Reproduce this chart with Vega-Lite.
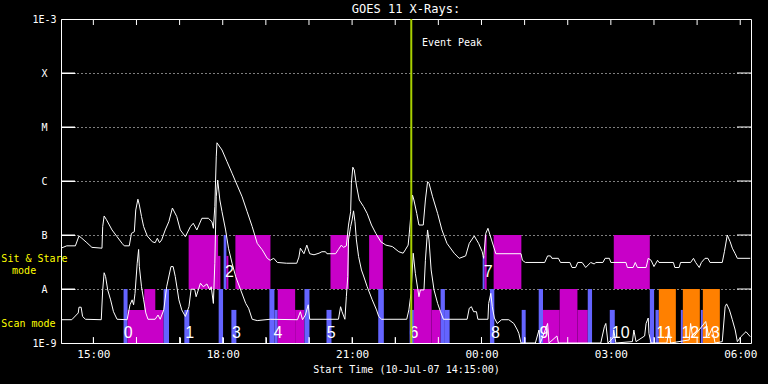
{
 "$schema": "https://vega.github.io/schema/vega-lite/v6.json",
 "width": 690, "height": 324,
 "autosize": {"type": "none"},
 "padding": {"left": 61, "top": 19, "right": 17, "bottom": 41},
 "background": "black",
 "title": {"text": "GOES 11 X-Rays:", "color": "white", "font": "DejaVu Sans Mono", "fontSize": 12, "fontWeight": "normal", "anchor": "middle", "offset": -2},
 "config": {
  "view": {"stroke": "white", "strokeWidth": 1},
  "axis": {"labelColor": "white", "domain": false, "titleColor": "white", "labelFont": "DejaVu Sans Mono", "titleFont": "DejaVu Sans Mono", "titleFontWeight": "normal", "labelOverlap": false, "labelFlush": false}
 },
 "resolve": {"axis": {"x": "independent", "y": "independent"}},
 "datasets": {
  "bars": [
   {"s":"2007-07-10T15:42:03","e":"2007-07-10T15:47:37","lo":1e-9,"hi":1e-8,"k":"blue"},
   {"s":"2007-07-10T15:47:37","e":"2007-07-10T16:37:46","lo":1e-9,"hi":4.1e-9,"k":"magenta"},
   {"s":"2007-07-10T16:10:53","e":"2007-07-10T16:26:12","lo":1e-9,"hi":1e-8,"k":"magenta"},
   {"s":"2007-07-10T16:37:46","e":"2007-07-10T16:45:17","lo":1e-9,"hi":1e-8,"k":"blue"},
   {"s":"2007-07-10T17:06:35","e":"2007-07-10T17:13:33","lo":1e-9,"hi":4.1e-9,"k":"blue"},
   {"s":"2007-07-10T17:54:22","e":"2007-07-10T18:00:29","lo":1e-9,"hi":1e-8,"k":"blue"},
   {"s":"2007-07-10T18:12:03","e":"2007-07-10T18:19:01","lo":1e-9,"hi":4.1e-9,"k":"blue"},
   {"s":"2007-07-10T19:04:58","e":"2007-07-10T19:11:56","lo":1e-9,"hi":1e-8,"k":"blue"},
   {"s":"2007-07-10T19:11:56","e":"2007-07-10T19:16:32","lo":1e-9,"hi":4.1e-9,"k":"blue"},
   {"s":"2007-07-10T19:16:32","e":"2007-07-10T19:40:46","lo":1e-9,"hi":1e-8,"k":"magenta"},
   {"s":"2007-07-10T19:40:46","e":"2007-07-10T19:53:43","lo":1e-9,"hi":4.1e-9,"k":"magenta"},
   {"s":"2007-07-10T19:53:43","e":"2007-07-10T20:00:41","lo":1e-9,"hi":1e-8,"k":"blue"},
   {"s":"2007-07-10T20:24:22","e":"2007-07-10T20:31:20","lo":1e-9,"hi":4.1e-9,"k":"blue"},
   {"s":"2007-07-10T21:36:22","e":"2007-07-10T21:44:10","lo":1e-9,"hi":1e-8,"k":"blue"},
   {"s":"2007-07-10T22:19:58","e":"2007-07-10T22:25:57","lo":1e-9,"hi":4.1e-9,"k":"blue"},
   {"s":"2007-07-10T22:25:57","e":"2007-07-10T22:50:36","lo":1e-9,"hi":1e-8,"k":"magenta"},
   {"s":"2007-07-10T22:50:36","e":"2007-07-10T23:03:06","lo":1e-9,"hi":4.1e-9,"k":"magenta"},
   {"s":"2007-07-10T23:03:06","e":"2007-07-10T23:09:06","lo":1e-9,"hi":1e-8,"k":"blue"},
   {"s":"2007-07-10T23:09:06","e":"2007-07-10T23:15:42","lo":1e-9,"hi":4.1e-9,"k":"blue"},
   {"s":"2007-07-11T00:11:48","e":"2007-07-11T00:17:54","lo":1e-9,"hi":1e-8,"k":"blue"},
   {"s":"2007-07-11T00:55:57","e":"2007-07-11T01:01:31","lo":1e-9,"hi":4.1e-9,"k":"blue"},
   {"s":"2007-07-11T01:19:38","e":"2007-07-11T01:25:37","lo":1e-9,"hi":1e-8,"k":"blue"},
   {"s":"2007-07-11T01:25:37","e":"2007-07-11T01:48:52","lo":1e-9,"hi":4.1e-9,"k":"magenta"},
   {"s":"2007-07-11T01:48:52","e":"2007-07-11T02:13:31","lo":1e-9,"hi":1e-8,"k":"magenta"},
   {"s":"2007-07-11T02:13:31","e":"2007-07-11T02:27:52","lo":1e-9,"hi":4.1e-9,"k":"magenta"},
   {"s":"2007-07-11T02:27:52","e":"2007-07-11T02:33:51","lo":1e-9,"hi":1e-8,"k":"blue"},
   {"s":"2007-07-11T02:58:30","e":"2007-07-11T03:05:28","lo":1e-9,"hi":4.1e-9,"k":"blue"},
   {"s":"2007-07-11T03:54:13","e":"2007-07-11T04:00:12","lo":1e-9,"hi":1e-8,"k":"blue"},
   {"s":"2007-07-11T04:02:07","e":"2007-07-11T04:06:48","lo":1e-9,"hi":4.1e-9,"k":"blue"},
   {"s":"2007-07-11T04:06:48","e":"2007-07-11T04:30:27","lo":1e-9,"hi":1e-8,"k":"orange"},
   {"s":"2007-07-11T04:37:25","e":"2007-07-11T04:40:12","lo":1e-9,"hi":4.1e-9,"k":"blue"},
   {"s":"2007-07-11T04:40:12","e":"2007-07-11T05:03:50","lo":1e-9,"hi":1e-8,"k":"orange"},
   {"s":"2007-07-11T05:05:14","e":"2007-07-11T05:08:01","lo":1e-9,"hi":4.1e-9,"k":"blue"},
   {"s":"2007-07-11T05:08:01","e":"2007-07-11T05:31:40","lo":1e-9,"hi":1e-8,"k":"orange"},
   {"s":"2007-07-10T17:12:35","e":"2007-07-10T17:53:32","lo":1e-8,"hi":1e-7,"k":"magenta"},
   {"s":"2007-07-10T17:53:32","e":"2007-07-10T17:56:44","lo":1e-8,"hi":4.1e-8,"k":"magenta"},
   {"s":"2007-07-10T18:01:20","e":"2007-07-10T18:05:05","lo":1e-8,"hi":1e-7,"k":"blue"},
   {"s":"2007-07-10T18:05:05","e":"2007-07-10T18:07:52","lo":1e-8,"hi":4.1e-8,"k":"magenta"},
   {"s":"2007-07-10T18:17:38","e":"2007-07-10T19:06:23","lo":1e-8,"hi":1e-7,"k":"magenta"},
   {"s":"2007-07-10T20:29:56","e":"2007-07-10T20:55:25","lo":1e-8,"hi":1e-7,"k":"magenta"},
   {"s":"2007-07-10T21:23:42","e":"2007-07-10T21:42:46","lo":1e-8,"hi":1e-7,"k":"magenta"},
   {"s":"2007-07-11T00:01:38","e":"2007-07-11T00:04:25","lo":1e-8,"hi":4.1e-8,"k":"blue"},
   {"s":"2007-07-11T00:04:25","e":"2007-07-11T00:07:12","lo":1e-8,"hi":1e-7,"k":"magenta"},
   {"s":"2007-07-11T00:16:57","e":"2007-07-11T00:55:30","lo":1e-8,"hi":1e-7,"k":"magenta"},
   {"s":"2007-07-11T03:04:05","e":"2007-07-11T03:54:13","lo":1e-8,"hi":1e-7,"k":"magenta"}
  ],
  "long": [
   {"t":"2007-07-10T14:15","f":5.7e-8},{"t":"2007-07-10T14:23","f":6.3e-8},{"t":"2007-07-10T14:35","f":6.3e-8},{"t":"2007-07-10T14:40","f":9.6e-8},{"t":"2007-07-10T14:44","f":8.7e-8},{"t":"2007-07-10T14:51","f":7.2e-8},{"t":"2007-07-10T14:58","f":5.9e-8},{"t":"2007-07-10T15:12","f":5.7e-8},{"t":"2007-07-10T15:13","f":1.43e-7},{"t":"2007-07-10T15:15","f":2.25e-7},{"t":"2007-07-10T15:18","f":1.95e-7},{"t":"2007-07-10T15:26","f":1.24e-7},{"t":"2007-07-10T15:33","f":9.3e-8},{"t":"2007-07-10T15:40","f":7.0e-8},{"t":"2007-07-10T15:43","f":6.3e-8},{"t":"2007-07-10T15:50","f":6.3e-8},{"t":"2007-07-10T15:53","f":1.07e-7},{"t":"2007-07-10T15:57","f":1.15e-7},{"t":"2007-07-10T15:59","f":2.9e-7},{"t":"2007-07-10T16:02","f":4.6e-7},{"t":"2007-07-10T16:04","f":3.6e-7},{"t":"2007-07-10T16:07","f":2.2e-7},{"t":"2007-07-10T16:10","f":1.43e-7},{"t":"2007-07-10T16:15","f":9.6e-8},{"t":"2007-07-10T16:22","f":7.5e-8},{"t":"2007-07-10T16:26","f":7.2e-8},{"t":"2007-07-10T16:29","f":8.7e-8},{"t":"2007-07-10T16:32","f":7.2e-8},{"t":"2007-07-10T16:35","f":8.1e-8},{"t":"2007-07-10T16:40","f":1.24e-7},{"t":"2007-07-10T16:45","f":1.76e-7},{"t":"2007-07-10T16:50","f":3.16e-7},{"t":"2007-07-10T16:56","f":2.2e-7},{"t":"2007-07-10T17:01","f":1.24e-7},{"t":"2007-07-10T17:08","f":9.3e-8},{"t":"2007-07-10T17:15","f":1.43e-7},{"t":"2007-07-10T17:19","f":1.65e-7},{"t":"2007-07-10T17:24","f":1.24e-7},{"t":"2007-07-10T17:31","f":2.04e-7},{"t":"2007-07-10T17:40","f":2.04e-7},{"t":"2007-07-10T17:45","f":1.76e-7},{"t":"2007-07-10T17:47","f":1.33e-7},{"t":"2007-07-10T17:49","f":3.34e-7},{"t":"2007-07-10T17:51","f":2.8e-6},{"t":"2007-07-10T17:52","f":5.1e-6},{"t":"2007-07-10T17:59","f":3.75e-6},{"t":"2007-07-10T18:06","f":2.28e-6},{"t":"2007-07-10T18:13","f":1.39e-6},{"t":"2007-07-10T18:20","f":8.4e-7},{"t":"2007-07-10T18:27","f":5.1e-7},{"t":"2007-07-10T18:34","f":2.7e-7},{"t":"2007-07-10T18:41","f":1.43e-7},{"t":"2007-07-10T18:48","f":7.0e-8},{"t":"2007-07-10T18:55","f":5.3e-8},{"t":"2007-07-10T19:02","f":3.7e-8},{"t":"2007-07-10T19:06","f":3.4e-8},{"t":"2007-07-10T19:11","f":3.7e-8},{"t":"2007-07-10T19:16","f":3.1e-8},{"t":"2007-07-10T19:29","f":3.0e-8},{"t":"2007-07-10T19:43","f":3.0e-8},{"t":"2007-07-10T19:46","f":3.9e-8},{"t":"2007-07-10T19:48","f":5.7e-8},{"t":"2007-07-10T19:53","f":4.5e-8},{"t":"2007-07-10T19:57","f":6.5e-8},{"t":"2007-07-10T20:01","f":4.5e-8},{"t":"2007-07-10T20:07","f":4.3e-8},{"t":"2007-07-10T20:14","f":4.6e-8},{"t":"2007-07-10T20:18","f":4.9e-8},{"t":"2007-07-10T20:23","f":4.9e-8},{"t":"2007-07-10T20:25","f":4.5e-8},{"t":"2007-07-10T20:37","f":4.5e-8},{"t":"2007-07-10T20:41","f":5.4e-8},{"t":"2007-07-10T20:45","f":6.5e-8},{"t":"2007-07-10T20:48","f":5.9e-8},{"t":"2007-07-10T20:52","f":6.3e-8},{"t":"2007-07-10T20:55","f":1.53e-7},{"t":"2007-07-10T20:58","f":2.7e-7},{"t":"2007-07-10T20:59","f":9.1e-7},{"t":"2007-07-10T21:01","f":1.8e-6},{"t":"2007-07-10T21:03","f":1.6e-6},{"t":"2007-07-10T21:06","f":8.4e-7},{"t":"2007-07-10T21:10","f":4.45e-7},{"t":"2007-07-10T21:16","f":3.34e-7},{"t":"2007-07-10T21:21","f":2.5e-7},{"t":"2007-07-10T21:27","f":1.53e-7},{"t":"2007-07-10T21:33","f":1.07e-7},{"t":"2007-07-10T21:40","f":7.5e-8},{"t":"2007-07-10T21:47","f":6.5e-8},{"t":"2007-07-10T21:56","f":6.1e-8},{"t":"2007-07-10T22:05","f":4.9e-8},{"t":"2007-07-10T22:11","f":4.6e-8},{"t":"2007-07-10T22:14","f":5.3e-8},{"t":"2007-07-10T22:18","f":6.5e-8},{"t":"2007-07-10T22:20","f":1.24e-7},{"t":"2007-07-10T22:24","f":5.5e-7},{"t":"2007-07-10T22:26","f":4.45e-7},{"t":"2007-07-10T22:30","f":2.5e-7},{"t":"2007-07-10T22:33","f":1.53e-7},{"t":"2007-07-10T22:39","f":1.53e-7},{"t":"2007-07-10T22:42","f":4.45e-7},{"t":"2007-07-10T22:45","f":9.7e-7},{"t":"2007-07-10T22:47","f":9.1e-7},{"t":"2007-07-10T22:52","f":5.1e-7},{"t":"2007-07-10T22:59","f":2.5e-7},{"t":"2007-07-10T23:05","f":1.24e-7},{"t":"2007-07-10T23:12","f":7.0e-8},{"t":"2007-07-10T23:22","f":4.6e-8},{"t":"2007-07-10T23:29","f":3.7e-8},{"t":"2007-07-10T23:38","f":4.1e-8},{"t":"2007-07-10T23:43","f":7.0e-8},{"t":"2007-07-10T23:50","f":9.6e-8},{"t":"2007-07-10T23:56","f":7.0e-8},{"t":"2007-07-11T00:01","f":4.9e-8},{"t":"2007-07-11T00:03","f":3.7e-8},{"t":"2007-07-11T00:06","f":1.07e-7},{"t":"2007-07-11T00:09","f":1.33e-7},{"t":"2007-07-11T00:14","f":8.1e-8},{"t":"2007-07-11T00:20","f":4.5e-8},{"t":"2007-07-11T00:55","f":4.5e-8},{"t":"2007-07-11T00:57","f":3.4e-8},{"t":"2007-07-11T01:01","f":3.1e-8},{"t":"2007-07-11T01:28","f":3.1e-8},{"t":"2007-07-11T01:32","f":4.1e-8},{"t":"2007-07-11T01:36","f":4.1e-8},{"t":"2007-07-11T01:38","f":3.7e-8},{"t":"2007-07-11T01:47","f":3.7e-8},{"t":"2007-07-11T01:50","f":3.1e-8},{"t":"2007-07-11T02:03","f":3.1e-8},{"t":"2007-07-11T02:06","f":2.5e-8},{"t":"2007-07-11T02:11","f":2.5e-8},{"t":"2007-07-11T02:14","f":3.1e-8},{"t":"2007-07-11T02:20","f":3.1e-8},{"t":"2007-07-11T02:25","f":2.5e-8},{"t":"2007-07-11T02:32","f":3.1e-8},{"t":"2007-07-11T02:37","f":2.9e-8},{"t":"2007-07-11T02:39","f":3.1e-8},{"t":"2007-07-11T02:49","f":3.1e-8},{"t":"2007-07-11T02:52","f":3.7e-8},{"t":"2007-07-11T02:58","f":3.7e-8},{"t":"2007-07-11T03:00","f":3.1e-8},{"t":"2007-07-11T03:21","f":3.1e-8},{"t":"2007-07-11T03:23","f":2.5e-8},{"t":"2007-07-11T03:31","f":2.5e-8},{"t":"2007-07-11T03:34","f":3.1e-8},{"t":"2007-07-11T03:37","f":2.5e-8},{"t":"2007-07-11T03:49","f":2.5e-8},{"t":"2007-07-11T03:52","f":3.7e-8},{"t":"2007-07-11T03:56","f":3.4e-8},{"t":"2007-07-11T04:00","f":2.6e-8},{"t":"2007-07-11T04:05","f":3.4e-8},{"t":"2007-07-11T04:07","f":3.1e-8},{"t":"2007-07-11T04:27","f":3.1e-8},{"t":"2007-07-11T04:29","f":2.5e-8},{"t":"2007-07-11T04:35","f":2.5e-8},{"t":"2007-07-11T04:37","f":3.1e-8},{"t":"2007-07-11T04:51","f":3.1e-8},{"t":"2007-07-11T04:55","f":3.7e-8},{"t":"2007-07-11T04:58","f":3.1e-8},{"t":"2007-07-11T05:03","f":2.5e-8},{"t":"2007-07-11T05:06","f":3.1e-8},{"t":"2007-07-11T05:11","f":3.7e-8},{"t":"2007-07-11T05:15","f":3.7e-8},{"t":"2007-07-11T05:18","f":3.1e-8},{"t":"2007-07-11T05:35","f":3.1e-8},{"t":"2007-07-11T05:38","f":4.9e-8},{"t":"2007-07-11T05:42","f":1.0e-7},{"t":"2007-07-11T05:46","f":7.5e-8},{"t":"2007-07-11T05:49","f":5.7e-8},{"t":"2007-07-11T05:53","f":4.5e-8},{"t":"2007-07-11T05:56","f":3.7e-8},{"t":"2007-07-11T06:14","f":3.7e-8}
  ],
  "short": [
   {"t":"2007-07-10T14:15","f":2.7e-9},{"t":"2007-07-10T14:30","f":2.7e-9},{"t":"2007-07-10T14:39","f":3.6e-9},{"t":"2007-07-10T14:40","f":4.6e-9},{"t":"2007-07-10T14:43","f":4.6e-9},{"t":"2007-07-10T14:45","f":3.1e-9},{"t":"2007-07-10T14:49","f":2.75e-9},{"t":"2007-07-10T15:11","f":2.7e-9},{"t":"2007-07-10T15:13","f":9.6e-9},{"t":"2007-07-10T15:15","f":2.0e-8},{"t":"2007-07-10T15:17","f":1.7e-8},{"t":"2007-07-10T15:20","f":9.6e-9},{"t":"2007-07-10T15:24","f":6.3e-9},{"t":"2007-07-10T15:28","f":3.8e-9},{"t":"2007-07-10T15:33","f":2.75e-9},{"t":"2007-07-10T15:47","f":2.7e-9},{"t":"2007-07-10T15:51","f":5.1e-9},{"t":"2007-07-10T15:54","f":6.3e-9},{"t":"2007-07-10T15:56","f":5.1e-9},{"t":"2007-07-10T15:58","f":8.3e-9},{"t":"2007-07-10T16:01","f":3.0e-8},{"t":"2007-07-10T16:03","f":5.4e-8},{"t":"2007-07-10T16:04","f":2.6e-8},{"t":"2007-07-10T16:07","f":1.1e-8},{"t":"2007-07-10T16:10","f":6.3e-9},{"t":"2007-07-10T16:13","f":3.6e-9},{"t":"2007-07-10T16:16","f":2.75e-9},{"t":"2007-07-10T16:26","f":2.75e-9},{"t":"2007-07-10T16:30","f":3.3e-9},{"t":"2007-07-10T16:33","f":2.75e-9},{"t":"2007-07-10T16:38","f":4.1e-9},{"t":"2007-07-10T16:42","f":1.1e-8},{"t":"2007-07-10T16:48","f":2.6e-8},{"t":"2007-07-10T16:51","f":2.6e-8},{"t":"2007-07-10T16:54","f":1.7e-8},{"t":"2007-07-10T16:59","f":6.3e-9},{"t":"2007-07-10T17:03","f":4.1e-9},{"t":"2007-07-10T17:08","f":3.1e-9},{"t":"2007-07-10T17:13","f":4.7e-9},{"t":"2007-07-10T17:16","f":9.9e-9},{"t":"2007-07-10T17:21","f":9.9e-9},{"t":"2007-07-10T17:23","f":7.2e-9},{"t":"2007-07-10T17:29","f":1.28e-8},{"t":"2007-07-10T17:33","f":1.1e-8},{"t":"2007-07-10T17:38","f":1.24e-8},{"t":"2007-07-10T17:42","f":9.6e-9},{"t":"2007-07-10T17:44","f":1.1e-8},{"t":"2007-07-10T17:47","f":5.4e-9},{"t":"2007-07-10T17:49","f":3.0e-8},{"t":"2007-07-10T17:51","f":5.1e-7},{"t":"2007-07-10T17:53","f":1.04e-6},{"t":"2007-07-10T17:56","f":4.45e-7},{"t":"2007-07-10T17:59","f":2.7e-7},{"t":"2007-07-10T18:04","f":1.24e-7},{"t":"2007-07-10T18:08","f":5.7e-8},{"t":"2007-07-10T18:13","f":3.0e-8},{"t":"2007-07-10T18:18","f":1.7e-8},{"t":"2007-07-10T18:25","f":9.6e-9},{"t":"2007-07-10T18:32","f":5.4e-9},{"t":"2007-07-10T18:36","f":4.4e-9},{"t":"2007-07-10T18:41","f":2.75e-9},{"t":"2007-07-10T18:48","f":2.6e-9},{"t":"2007-07-10T19:06","f":2.75e-9},{"t":"2007-07-10T19:44","f":2.7e-9},{"t":"2007-07-10T19:48","f":3.8e-9},{"t":"2007-07-10T19:51","f":2.7e-9},{"t":"2007-07-10T19:55","f":3.3e-9},{"t":"2007-07-10T19:59","f":5.1e-9},{"t":"2007-07-10T20:01","f":2.75e-9},{"t":"2007-07-10T20:41","f":2.75e-9},{"t":"2007-07-10T20:44","f":4.7e-9},{"t":"2007-07-10T20:46","f":3.8e-9},{"t":"2007-07-10T20:50","f":2.75e-9},{"t":"2007-07-10T20:52","f":7.2e-9},{"t":"2007-07-10T20:54","f":1.7e-8},{"t":"2007-07-10T20:55","f":8.1e-8},{"t":"2007-07-10T20:58","f":1.43e-7},{"t":"2007-07-10T21:00","f":1.9e-7},{"t":"2007-07-10T21:02","f":2.8e-7},{"t":"2007-07-10T21:04","f":1.76e-7},{"t":"2007-07-10T21:06","f":8.1e-8},{"t":"2007-07-10T21:09","f":4.0e-8},{"t":"2007-07-10T21:13","f":2.25e-8},{"t":"2007-07-10T21:16","f":1.74e-8},{"t":"2007-07-10T21:21","f":1.1e-8},{"t":"2007-07-10T21:28","f":6.3e-9},{"t":"2007-07-10T21:34","f":4.1e-9},{"t":"2007-07-10T21:37","f":3.1e-9},{"t":"2007-07-10T21:41","f":2.75e-9},{"t":"2007-07-10T22:16","f":2.75e-9},{"t":"2007-07-10T22:19","f":4.1e-9},{"t":"2007-07-10T22:22","f":8.3e-9},{"t":"2007-07-10T22:25","f":4.6e-8},{"t":"2007-07-10T22:28","f":1.95e-8},{"t":"2007-07-10T22:33","f":7.2e-9},{"t":"2007-07-10T22:35","f":9.6e-9},{"t":"2007-07-10T22:40","f":9.6e-9},{"t":"2007-07-10T22:42","f":3.4e-8},{"t":"2007-07-10T22:45","f":1.24e-7},{"t":"2007-07-10T22:47","f":8.1e-8},{"t":"2007-07-10T22:50","f":2.25e-8},{"t":"2007-07-10T22:54","f":9.6e-9},{"t":"2007-07-10T22:59","f":5.4e-9},{"t":"2007-07-10T23:03","f":3.8e-9},{"t":"2007-07-10T23:07","f":2.75e-9},{"t":"2007-07-10T23:40","f":2.75e-9},{"t":"2007-07-10T23:43","f":4.4e-9},{"t":"2007-07-10T23:46","f":4.7e-9},{"t":"2007-07-10T23:49","f":3.8e-9},{"t":"2007-07-10T23:53","f":3.8e-9},{"t":"2007-07-10T23:55","f":2.75e-9},{"t":"2007-07-11T00:09","f":2.75e-9},{"t":"2007-07-11T00:10","f":5.4e-9},{"t":"2007-07-11T00:13","f":8.3e-9},{"t":"2007-07-11T00:15","f":4.7e-9},{"t":"2007-07-11T00:18","f":2.9e-9},{"t":"2007-07-11T00:22","f":2.3e-9},{"t":"2007-07-11T00:28","f":2.7e-9},{"t":"2007-07-11T00:38","f":2.7e-9},{"t":"2007-07-11T00:45","f":2.3e-9},{"t":"2007-07-11T00:50","f":1.74e-9},{"t":"2007-07-11T00:52","f":1.5e-9},{"t":"2007-07-11T00:55","f":1.0e-9},{"t":"2007-07-11T01:15","f":1.0e-9},{"t":"2007-07-11T01:20","f":1.74e-9},{"t":"2007-07-11T01:22","f":1.0e-9},{"t":"2007-07-11T01:32","f":2.3e-9},{"t":"2007-07-11T01:34","f":1.0e-9},{"t":"2007-07-11T01:45","f":1.35e-9},{"t":"2007-07-11T01:47","f":1.0e-9},{"t":"2007-07-11T02:46","f":1.0e-9},{"t":"2007-07-11T02:51","f":2.0e-9},{"t":"2007-07-11T02:53","f":2.3e-9},{"t":"2007-07-11T02:56","f":1.0e-9},{"t":"2007-07-11T03:03","f":1.24e-9},{"t":"2007-07-11T03:04","f":1.74e-9},{"t":"2007-07-11T03:07","f":1.0e-9},{"t":"2007-07-11T03:30","f":1.06e-9},{"t":"2007-07-11T03:32","f":1.74e-9},{"t":"2007-07-11T03:35","f":1.06e-9},{"t":"2007-07-11T03:47","f":1.35e-9},{"t":"2007-07-11T03:49","f":2.3e-9},{"t":"2007-07-11T03:52","f":2.9e-9},{"t":"2007-07-11T03:53","f":1.5e-9},{"t":"2007-07-11T03:56","f":1.0e-9},{"t":"2007-07-11T04:18","f":1.0e-9},{"t":"2007-07-11T04:21","f":1.87e-9},{"t":"2007-07-11T04:23","f":1.0e-9},{"t":"2007-07-11T04:49","f":1.14e-9},{"t":"2007-07-11T04:51","f":2.3e-9},{"t":"2007-07-11T04:54","f":1.24e-9},{"t":"2007-07-11T05:12","f":2.5e-9},{"t":"2007-07-11T05:16","f":1.35e-9},{"t":"2007-07-11T05:21","f":1.87e-9},{"t":"2007-07-11T05:25","f":1.0e-9},{"t":"2007-07-11T05:35","f":1.06e-9},{"t":"2007-07-11T05:39","f":4.7e-9},{"t":"2007-07-11T05:41","f":5.3e-9},{"t":"2007-07-11T05:45","f":4.1e-9},{"t":"2007-07-11T05:49","f":2.7e-9},{"t":"2007-07-11T05:53","f":1.74e-9},{"t":"2007-07-11T05:56","f":1.06e-9},{"t":"2007-07-11T06:01","f":1.31e-9},{"t":"2007-07-11T06:08","f":1.62e-9},{"t":"2007-07-11T06:14","f":1.31e-9}
  ],
  "nums": [
   {"t":"2007-07-10T15:48:36","f":1.53e-9,"n":"0"},
   {"t":"2007-07-10T17:14:00","f":1.53e-9,"n":"1"},
   {"t":"2007-07-10T18:09:18","f":2.06e-8,"n":"2"},
   {"t":"2007-07-10T18:19:00","f":1.53e-9,"n":"3"},
   {"t":"2007-07-10T19:17:00","f":1.53e-9,"n":"4"},
   {"t":"2007-07-10T20:30:54","f":1.53e-9,"n":"5"},
   {"t":"2007-07-10T22:26:00","f":1.53e-9,"n":"6"},
   {"t":"2007-07-11T00:09:18","f":2.06e-8,"n":"7"},
   {"t":"2007-07-11T00:19:18","f":1.53e-9,"n":"8"},
   {"t":"2007-07-11T01:27:00","f":1.53e-9,"n":"9"},
   {"t":"2007-07-11T03:13:48","f":1.53e-9,"n":"10"},
   {"t":"2007-07-11T04:14:42","f":1.53e-9,"n":"11"},
   {"t":"2007-07-11T04:50:36","f":1.53e-9,"n":"12"},
   {"t":"2007-07-11T05:19:12","f":1.53e-9,"n":"13"}
  ],
  "ytick": [
   {"a":"2007-07-10T14:15:00","b":"2007-07-10T14:34:30","f":1e-8},
   {"a":"2007-07-10T14:15:00","b":"2007-07-10T14:34:30","f":1e-7},
   {"a":"2007-07-10T14:15:00","b":"2007-07-10T14:34:30","f":1e-6},
   {"a":"2007-07-10T14:15:00","b":"2007-07-10T14:34:30","f":1e-5},
   {"a":"2007-07-10T14:15:00","b":"2007-07-10T14:34:30","f":1e-4},
   {"a":"2007-07-11T05:55:30","b":"2007-07-11T06:15:00","f":1e-8},
   {"a":"2007-07-11T05:55:30","b":"2007-07-11T06:15:00","f":1e-7},
   {"a":"2007-07-11T05:55:30","b":"2007-07-11T06:15:00","f":1e-6},
   {"a":"2007-07-11T05:55:30","b":"2007-07-11T06:15:00","f":1e-5},
   {"a":"2007-07-11T05:55:30","b":"2007-07-11T06:15:00","f":1e-4}
  ],
  "xtick": [
   {"t":"2007-07-10T15:00","lo":1e-9,"hi":1.29e-9},{"t":"2007-07-10T16:00","lo":1e-9,"hi":1.29e-9},{"t":"2007-07-10T17:00","lo":1e-9,"hi":1.29e-9},{"t":"2007-07-10T18:00","lo":1e-9,"hi":1.29e-9},{"t":"2007-07-10T19:00","lo":1e-9,"hi":1.29e-9},{"t":"2007-07-10T20:00","lo":1e-9,"hi":1.29e-9},{"t":"2007-07-10T21:00","lo":1e-9,"hi":1.29e-9},{"t":"2007-07-10T22:00","lo":1e-9,"hi":1.29e-9},{"t":"2007-07-10T23:00","lo":1e-9,"hi":1.29e-9},{"t":"2007-07-11T00:00","lo":1e-9,"hi":1.29e-9},{"t":"2007-07-11T01:00","lo":1e-9,"hi":1.29e-9},{"t":"2007-07-11T02:00","lo":1e-9,"hi":1.29e-9},{"t":"2007-07-11T03:00","lo":1e-9,"hi":1.29e-9},{"t":"2007-07-11T04:00","lo":1e-9,"hi":1.29e-9},{"t":"2007-07-11T05:00","lo":1e-9,"hi":1.29e-9},{"t":"2007-07-11T06:00","lo":1e-9,"hi":1.29e-9},
   {"t":"2007-07-10T15:00","lo":7.74e-4,"hi":1e-3},{"t":"2007-07-10T16:00","lo":7.74e-4,"hi":1e-3},{"t":"2007-07-10T17:00","lo":7.74e-4,"hi":1e-3},{"t":"2007-07-10T18:00","lo":7.74e-4,"hi":1e-3},{"t":"2007-07-10T19:00","lo":7.74e-4,"hi":1e-3},{"t":"2007-07-10T20:00","lo":7.74e-4,"hi":1e-3},{"t":"2007-07-10T21:00","lo":7.74e-4,"hi":1e-3},{"t":"2007-07-10T22:00","lo":7.74e-4,"hi":1e-3},{"t":"2007-07-10T23:00","lo":7.74e-4,"hi":1e-3},{"t":"2007-07-11T00:00","lo":7.74e-4,"hi":1e-3},{"t":"2007-07-11T01:00","lo":7.74e-4,"hi":1e-3},{"t":"2007-07-11T02:00","lo":7.74e-4,"hi":1e-3},{"t":"2007-07-11T03:00","lo":7.74e-4,"hi":1e-3},{"t":"2007-07-11T04:00","lo":7.74e-4,"hi":1e-3},{"t":"2007-07-11T05:00","lo":7.74e-4,"hi":1e-3},{"t":"2007-07-11T06:00","lo":7.74e-4,"hi":1e-3}
  ],
  "peak": [{"t":"2007-07-10T22:22:20"}],
  "notes": [{"t":"2007-07-10T22:37:06","f":3.64e-4,"txt":"Event Peak"}],
  "side": [
   {"t":"2007-07-10T13:38:06","f":3.6e-8,"txt":"Sit & Stare"},
   {"t":"2007-07-10T13:23:42","f":2.15e-8,"txt":"mode"},
   {"t":"2007-07-10T13:29:42","f":2.25e-9,"txt":"Scan mode"}
  ]
 },
 "layer": [
  {
   "data": {"name": "bars"},
   "mark": {"type": "rect"},
   "encoding": {
    "x": {"field": "s", "type": "temporal", "scale": {"domain": [{"year":2007,"month":7,"date":10,"hours":14,"minutes":15},{"year":2007,"month":7,"date":11,"hours":6,"minutes":15}], "nice": false},
     "axis": {"orient": "bottom", "offset": -6, "tickCount": 16, "ticks": true, "tickSize": 6, "tickColor": "#ffffff", "labelPadding": 5, "labelFontSize": 11, "labelExpr": "hours(datum.value) % 3 == 0 ? timeFormat(datum.value, '%H:%M') : ''", "grid": false, "title": "Start Time (10-Jul-07 14:15:00)", "titleFontSize": 10, "titleBaseline": "alphabetic", "titleY": 35}},
    "x2": {"field": "e"},
    "y": {"field": "lo", "type": "quantitative", "scale": {"type": "log", "domain": [1e-9, 1e-3], "nice": false},
     "axis": {"orient": "left", "offset": -14, "values": [1e-9,1e-8,1e-7,1e-6,1e-5,1e-4,1e-3], "labelExpr": "datum.value > 5e-4 ? '1E-3' : datum.value > 5e-5 ? 'X' : datum.value > 5e-6 ? 'M' : datum.value > 5e-7 ? 'C' : datum.value > 5e-8 ? 'B' : datum.value > 5e-9 ? 'A' : '1E-9'", "ticks": true, "tickSize": 14, "tickColor": "#ffffff", "labelPadding": 17, "labelAlign": "center", "labelBaseline": "middle", "labelFontSize": 10, "grid": false, "title": null}},
    "y2": {"field": "hi"},
    "color": {"field": "k", "type": "nominal", "scale": {"domain": ["magenta", "blue", "orange"], "range": ["#c800c8", "#6464ff", "#ff8000"]}, "legend": null}
   }
  },
  {
   "data": {"name": "long"},
   "mark": {"type": "line", "color": "white", "strokeWidth": 1, "clip": true},
   "encoding": {
    "x": {"field": "t", "type": "temporal", "axis": null},
    "y": {"field": "f", "type": "quantitative", "scale": {"type": "log"}, "axis": null}
   }
  },
  {
   "data": {"name": "short"},
   "mark": {"type": "line", "color": "white", "strokeWidth": 1, "clip": true},
   "encoding": {
    "x": {"field": "t", "type": "temporal", "axis": null},
    "y": {"field": "f", "type": "quantitative", "scale": {"type": "log"}, "axis": {"orient": "left", "values": [1e-8,1e-7,1e-6,1e-5,1e-4], "ticks": false, "labels": false, "grid": true, "gridColor": "white", "gridDash": [1, 3], "gridOpacity": 1, "title": null}}
   }
  },
  {
   "data": {"name": "ytick"},
   "mark": {"type": "rule", "color": "white", "strokeWidth": 1},
   "encoding": {
    "x": {"field": "a", "type": "temporal", "axis": null},
    "x2": {"field": "b"},
    "y": {"field": "f", "type": "quantitative", "scale": {"type": "log"}, "axis": null}
   }
  },
  {
   "data": {"name": "xtick"},
   "mark": {"type": "rule", "color": "white", "strokeWidth": 1},
   "encoding": {
    "x": {"field": "t", "type": "temporal", "axis": null},
    "y": {"field": "lo", "type": "quantitative", "scale": {"type": "log"}, "axis": null},
    "y2": {"field": "hi"}
   }
  },
  {
   "data": {"name": "nums"},
   "mark": {"type": "text", "color": "white", "font": "Liberation Sans", "fontSize": 16, "align": "center", "baseline": "middle"},
   "encoding": {
    "x": {"field": "t", "type": "temporal", "axis": null},
    "y": {"field": "f", "type": "quantitative", "scale": {"type": "log"}, "axis": null},
    "text": {"field": "n"}
   }
  },
  {
   "data": {"name": "peak"},
   "mark": {"type": "rule", "color": "#a8d000", "strokeWidth": 2},
   "encoding": {
    "x": {"field": "t", "type": "temporal", "axis": null}
   }
  },
  {
   "data": {"name": "notes"},
   "mark": {"type": "text", "color": "white", "font": "DejaVu Sans Mono", "fontSize": 10, "align": "left", "baseline": "middle"},
   "encoding": {
    "x": {"field": "t", "type": "temporal", "axis": null},
    "y": {"field": "f", "type": "quantitative", "scale": {"type": "log"}, "axis": null},
    "text": {"field": "txt"}
   }
  },
  {
   "data": {"name": "side"},
   "mark": {"type": "text", "color": "#ffff00", "font": "DejaVu Sans Mono", "fontSize": 10, "align": "center", "baseline": "middle"},
   "encoding": {
    "x": {"field": "t", "type": "temporal", "axis": null},
    "y": {"field": "f", "type": "quantitative", "scale": {"type": "log"}, "axis": null},
    "text": {"field": "txt"}
   }
  }
 ]
}
